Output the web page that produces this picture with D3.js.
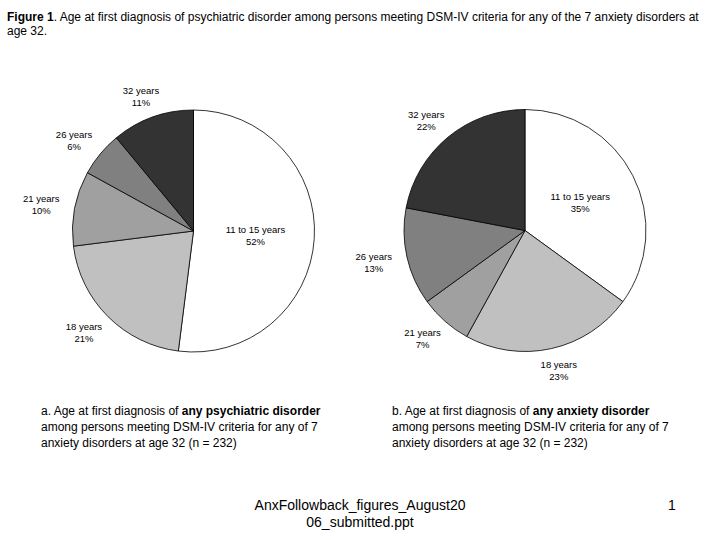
<!DOCTYPE html>
<html><head><meta charset="utf-8">
<script src="https://cdn.jsdelivr.net/npm/d3@7"></script>
<style>body{margin:0;background:#fff}svg{display:block}text{font-family:"Liberation Sans",Arial,sans-serif;fill:#000}</style>
</head><body>
<svg id="c" width="720" height="540"></svg>
<script>
const categories = ["11 to 15 years", "18 years", "21 years", "26 years", "32 years"];
const psychiatricValues = [52, 21, 10, 6, 11];
const anxietyValues = [35, 23, 7, 13, 22];
const sliceColors = ["#ffffff", "#c0c0c0", "#a0a0a0", "#808080", "#333333"];

const svg = d3.select("#c");

// Title
const title = svg.append("text").attr("x", 7).attr("y", 21).style("font-size", "12px");
title.append("tspan").style("font-weight", "bold").text("Figure 1");
title.append("tspan").text(". Age at first diagnosis of psychiatric disorder among persons meeting DSM-IV criteria for any of the 7 anxiety disorders at");
svg.append("text").attr("x", 7).attr("y", 35).style("font-size", "12px").text("age 32.");

const color = d3.scaleOrdinal().domain(categories).range(sliceColors);
const pie = d3.pie().sort(null).value(d => d.v);
const R = 121;
const arc = d3.arc().innerRadius(0).outerRadius(R);
const unitArc = d3.arc().innerRadius(1).outerRadius(1);

function labelPos(d, i) {
  const [ux, uy] = unitArc.centroid(d);
  return i === 0 ? [ux * 62, uy * 62] : [ux * 155, uy * 143];
}

function drawPie(cx, cy, values) {
  const g = svg.append("g").attr("transform", `translate(${cx},${cy})`);
  const data = pie(categories.map((c, i) => ({c, v: values[i]})));
  g.selectAll("path").data(data).join("path")
    .attr("d", arc).attr("fill", d => color(d.data.c))
    .attr("stroke", "#000").attr("stroke-width", 0.8);
  const lab = g.selectAll("text.l").data(data).join("text").attr("class", "l")
    .attr("text-anchor", "middle").style("font-size", "9.5px")
    .attr("transform", (d, i) => {
      const p = labelPos(d, i);
      return `translate(${p[0]},${p[1]})`;
    });
  lab.append("tspan").attr("x", 0).attr("y", -2).text(d => d.data.c);
  lab.append("tspan").attr("x", 0).attr("y", 10).text(d => d.data.v + "%");
}
drawPie(193.5, 231, psychiatricValues);
drawPie(525, 230.5, anxietyValues);

function caption(x, letter, bold) {
  const t1 = svg.append("text").attr("x", x).attr("y", 415).style("font-size", "12px");
  t1.append("tspan").text(letter + ". Age at first diagnosis of ");
  t1.append("tspan").style("font-weight", "bold").text(bold);
  svg.append("text").attr("x", x).attr("y", 431).style("font-size", "12px").text("among persons meeting DSM-IV criteria for any of 7");
  svg.append("text").attr("x", x).attr("y", 447).style("font-size", "12px").text("anxiety disorders at age 32 (n = 232)");
}
caption(41, "a", "any psychiatric disorder");
caption(392, "b", "any anxiety disorder");

svg.append("text").attr("x", 360).attr("y", 510).attr("text-anchor", "middle").style("font-size", "14px").text("AnxFollowback_figures_August20");
svg.append("text").attr("x", 360).attr("y", 527).attr("text-anchor", "middle").style("font-size", "14px").text("06_submitted.ppt");
svg.append("text").attr("x", 672).attr("y", 510).attr("text-anchor", "middle").style("font-size", "14px").text("1");
</script>
</body></html>
